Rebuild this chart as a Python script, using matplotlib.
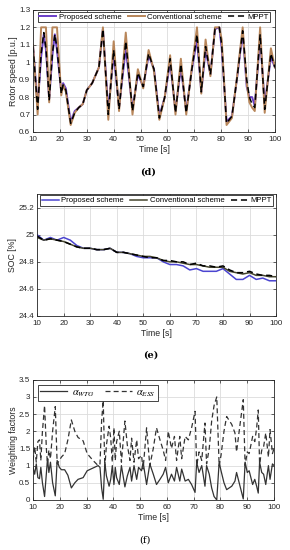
# Rotor speed, SOC and weighting factors (three stacked panels)

import matplotlib
matplotlib.use("Agg")
import matplotlib.pyplot as plt

# ---- panel (d): rotor speed ----
t_d = [10, 11.7, 13, 14, 14.8, 16, 17.2, 18.1, 18.9, 20.5,
       21.2, 22.2, 24, 25.5, 27, 28.5, 30, 32, 34.5, 36,
       38, 40, 42, 44.5, 47, 49, 51, 53, 55, 57,
       59, 61, 63, 65, 67, 69, 71, 72.6, 74.2, 76,
       77.7, 79.3, 80.2, 82, 84, 86, 88, 89.5, 90.5, 91.5,
       92.5, 94.5, 96.2, 98.5, 100]
speed_mppt = [1.09, 0.73, 1.05, 1.17, 1.08, 0.78, 1.05, 1.16, 1.08, 0.82,
              0.87, 0.84, 0.65, 0.71, 0.74, 0.76, 0.84, 0.88, 0.97, 1.19,
              0.70, 1.07, 0.73, 1.12, 0.72, 0.94, 0.86, 1.05, 0.96, 0.68,
              0.80, 1.02, 0.71, 0.99, 0.71, 0.95, 1.16, 0.83, 1.09, 0.93,
              1.19, 1.20, 1.10, 0.65, 0.69, 0.92, 1.18, 0.90, 0.80, 0.76,
              0.74, 1.16, 0.73, 1.05, 0.97]
speed_prop = [1.09, 0.75, 1.03, 1.16, 1.07, 0.79, 1.04, 1.16, 1.07, 0.83,
              0.88, 0.85, 0.66, 0.72, 0.74, 0.76, 0.84, 0.88, 0.97, 1.19,
              0.72, 1.05, 0.74, 1.08, 0.73, 0.93, 0.86, 1.04, 0.96, 0.69,
              0.80, 1.00, 0.72, 0.97, 0.72, 0.95, 1.13, 0.83, 1.07, 0.93,
              1.19, 1.20, 1.08, 0.66, 0.69, 0.92, 1.17, 0.86, 0.80, 0.80,
              0.75, 1.14, 0.76, 1.03, 0.97]
speed_conv = [1.10, 0.70, 1.20, 1.20, 1.20, 0.77, 1.20, 1.20, 1.20, 0.81,
              0.87, 0.83, 0.64, 0.71, 0.74, 0.76, 0.84, 0.88, 0.97, 1.20,
              0.67, 1.12, 0.72, 1.17, 0.70, 0.96, 0.85, 1.07, 0.95, 0.67,
              0.80, 1.04, 0.70, 1.02, 0.70, 0.96, 1.20, 0.82, 1.13, 0.92,
              1.20, 1.20, 1.13, 0.64, 0.68, 0.93, 1.20, 0.88, 0.77, 0.74,
              0.72, 1.20, 0.71, 1.08, 0.97]

# ---- panel (e): state of charge ----
t_e = [10, 12.5, 15, 17.5, 20, 22.5, 25, 27.5, 30, 32.5,
       35, 37.5, 40, 42.5, 45, 47.5, 50, 52.5, 55, 57.5,
       60, 62.5, 65, 67.5, 70, 72.5, 75, 77.5, 80, 82.5,
       85, 87.5, 90, 92.5, 95, 97.5, 100]
soc_mppt = [24.99, 24.96, 24.97, 24.96, 24.95, 24.93, 24.91, 24.90, 24.90, 24.89,
            24.89, 24.90, 24.87, 24.87, 24.86, 24.85, 24.84, 24.83, 24.83, 24.81,
            24.81, 24.80, 24.80, 24.78, 24.79, 24.77, 24.77, 24.76, 24.77, 24.74,
            24.72, 24.72, 24.73, 24.71, 24.70, 24.70, 24.69]
soc_conv = [24.98, 24.96, 24.97, 24.96, 24.95, 24.93, 24.91, 24.90, 24.90, 24.89,
            24.89, 24.90, 24.87, 24.87, 24.86, 24.85, 24.84, 24.84, 24.83, 24.81,
            24.80, 24.80, 24.79, 24.78, 24.78, 24.77, 24.76, 24.76, 24.76, 24.73,
            24.72, 24.71, 24.72, 24.70, 24.70, 24.69, 24.69]
soc_prop = [25.00, 24.96, 24.98, 24.96, 24.98, 24.96, 24.92, 24.90, 24.90, 24.89,
            24.89, 24.90, 24.87, 24.87, 24.86, 24.84, 24.83, 24.83, 24.83, 24.80,
            24.78, 24.78, 24.77, 24.74, 24.75, 24.73, 24.73, 24.73, 24.75, 24.71,
            24.67, 24.67, 24.70, 24.67, 24.68, 24.66, 24.66]

# ---- panel (f): weighting factors ----
t_f = [10.0, 10.6, 11.2, 11.8, 12.4, 12.9, 13.5, 14.3, 15.0, 15.4,
       15.9, 16.5, 17.3, 18.3, 19.0, 19.8, 20.6, 21.8, 23.0, 24.3,
       25.6, 26.8, 28.7, 30.2, 32.4, 34.3, 35.0, 35.6, 36.2, 36.8,
       37.4, 38.4, 39.0, 39.6, 40.2, 40.7, 41.2, 42.2, 43.0, 44.3,
       45.2, 46.2, 46.8, 47.7, 48.7, 49.4, 50.5, 51.1, 52.4, 53.6,
       54.9, 56.1, 57.4, 58.6, 59.5, 60.5, 61.7, 62.8, 63.6, 64.8,
       65.5, 66.8, 68.0, 69.2, 70.5, 71.1, 72.0, 73.0, 74.2, 74.8,
       75.8, 76.7, 77.6, 78.6, 79.5, 80.2, 81.3, 82.3, 84.2, 85.4,
       86.0, 87.3, 88.5, 89.2, 90.0, 90.7, 92.0, 92.8, 93.5, 94.1,
       94.6, 95.4, 96.1, 96.9, 97.9, 98.5, 99.4, 100.0]
alpha_wtg = [0.95, 0.75, 1.05, 0.65, 0.62, 0.95, 0.50, 0.10, 0.80, 1.20,
             0.80, 1.10, 0.50, 0.12, 1.15, 0.95, 0.88, 0.88, 0.72, 0.35,
             0.50, 0.60, 0.65, 0.85, 0.93, 1.00, 0.95, 0.35, 0.02, 1.10,
             0.70, 0.40, 0.60, 1.00, 0.45, 0.95, 0.65, 0.45, 1.00, 0.38,
             0.70, 0.95, 0.55, 1.00, 0.60, 0.95, 0.85, 1.10, 0.45, 1.05,
             0.75, 0.45, 0.60, 0.75, 0.95, 0.50, 0.75, 0.55, 0.95, 0.55,
             0.90, 0.55, 0.60, 0.45, 0.22, 1.10, 0.80, 1.00, 0.40, 1.00,
             0.75, 0.35, 0.10, 0.00, 1.10, 0.85, 0.50, 0.30, 0.40, 0.55,
             0.80, 0.40, 0.03, 1.10, 0.80, 0.85, 0.45, 0.60, 0.40, 0.20,
             1.10, 0.80, 0.75, 0.45, 1.00, 0.60, 1.05, 1.00]
alpha_ess = [1.15, 1.55, 1.10, 1.70, 1.75, 1.15, 2.00, 2.75, 1.45, 1.05,
             1.45, 1.20, 2.00, 2.72, 1.05, 1.15, 1.25, 1.35, 1.75, 2.33,
             2.00, 1.82, 1.72, 1.35, 1.15, 1.00, 1.05, 2.30, 2.90, 0.95,
             1.60, 2.15, 1.80, 1.10, 2.10, 1.15, 1.70, 2.00, 1.10, 2.30,
             1.60, 1.15, 1.80, 1.10, 1.75, 1.20, 1.30, 0.90, 2.10, 1.00,
             1.50, 2.10, 1.75, 1.45, 1.15, 2.00, 1.50, 1.85, 1.15, 1.85,
             1.20, 1.85, 1.75, 2.10, 2.58, 1.00, 1.40, 1.15, 2.24, 1.05,
             1.50, 2.30, 2.75, 3.00, 1.00, 1.30, 2.00, 2.43, 2.20, 1.95,
             1.40, 2.20, 2.92, 1.00, 1.40, 1.35, 1.85, 1.70, 2.10, 2.62,
             1.05, 1.45, 1.55, 1.95, 1.25, 2.05, 1.35, 1.50]

x_ticks = list(range(10, 101, 10))

plt.rcParams["font.family"] = "Liberation Sans"
plt.rcParams["mathtext.fontset"] = "stix"

fig = plt.figure(figsize=(2.9, 5.5), dpi=100)


def style_axes(ax, ylabel):
    """MATLAB-like look: grid, thin gray frame, small ticks."""
    ax.grid(True, color="#dcdcdc", linewidth=0.6)
    ax.set_axisbelow(True)
    for side in ax.spines.values():
        side.set_color("#262626")
        side.set_linewidth(0.6)
    ax.tick_params(labelsize=5.8, direction="in", length=2, width=0.5,
                   colors="#262626", top=True, right=True)
    ax.tick_params(axis="x", pad=3)
    ax.tick_params(axis="y", pad=2)
    ax.set_xlim(10, 100)
    ax.set_xticks(x_ticks)
    ax.set_xlabel("Time [s]", fontsize=6.3, labelpad=1, color="#262626")
    ax.set_ylabel(ylabel, fontsize=6.3, labelpad=1, color="#262626")


def add_legend(ax, **kw):
    leg = ax.legend(frameon=True, fancybox=False, framealpha=1,
                    edgecolor="#262626", **kw)
    leg.get_frame().set_linewidth(0.6)
    return leg


def fmt(v):
    return "%g" % round(v, 2)


# (d) rotor speed
ax_d = fig.add_axes([0.114, 0.76, 0.834, 0.222])
ax_d.plot(t_d, speed_prop, color="#6a3fc8", lw=1.4, label="Proposed scheme")
ax_d.plot(t_d, speed_conv, color="#b8865a", lw=1.4, label="Conventional scheme")
ax_d.plot(t_d, speed_mppt, color="black", lw=1.1, ls=(0, (4, 2.5)), label="MPPT")
ax_d.set_ylim(0.6, 1.3)
d_ticks = [0.6, 0.7, 0.8, 0.9, 1.0, 1.1, 1.2, 1.3]
ax_d.set_yticks(d_ticks)
ax_d.set_yticklabels([fmt(v) for v in d_ticks])
style_axes(ax_d, "Rotor speed [p.u.]")
add_legend(ax_d, loc="upper center", ncol=3, fontsize=5.6, handlelength=2.2,
           columnspacing=0.8, handletextpad=0.3, borderpad=0.2, borderaxespad=0.25)
fig.text(0.51, 0.687, "(d)", ha="center", va="center", fontsize=7,
         family="DejaVu Serif", weight="bold")

# (e) SOC
ax_e = fig.add_axes([0.128, 0.4255, 0.824, 0.2215])
ax_e.plot(t_e, soc_prop, color="#4b45d0", lw=1.1, label="Proposed scheme")
ax_e.plot(t_e, soc_conv, color="#45452e", lw=1.1, label="Conventional scheme")
ax_e.plot(t_e, soc_mppt, color="black", lw=1.1, ls=(0, (4, 2.5)), label="MPPT")
ax_e.set_ylim(24.4, 25.3)
e_ticks = [24.4, 24.6, 24.8, 25.0, 25.2]
ax_e.set_yticks(e_ticks)
ax_e.set_yticklabels([fmt(v) for v in e_ticks])
style_axes(ax_e, "SOC [%]")
add_legend(ax_e, loc="upper center", ncol=3, fontsize=5.6, handlelength=2.2,
           columnspacing=0.8, handletextpad=0.3, borderpad=0.2, borderaxespad=0.15)
fig.text(0.52, 0.355, "(e)", ha="center", va="center", fontsize=7,
         family="DejaVu Serif", weight="bold")

# (f) weighting factors
ax_f = fig.add_axes([0.114, 0.091, 0.831, 0.2185])
ax_f.plot(t_f, alpha_wtg, color="#333333", lw=0.9, label=r"$\alpha_{WTG}$")
ax_f.plot(t_f, alpha_ess, color="#333333", lw=0.9, ls=(0, (4, 2.5)), label=r"$\alpha_{ESS}$")
ax_f.set_ylim(0, 3.5)
f_ticks = [0, 0.5, 1.0, 1.5, 2.0, 2.5, 3.0, 3.5]
ax_f.set_yticks(f_ticks)
ax_f.set_yticklabels([fmt(v) for v in f_ticks])
style_axes(ax_f, "Weighting factors")
add_legend(ax_f, loc="upper left", ncol=2, fontsize=7.5, handlelength=2.6,
           columnspacing=1.0, handletextpad=0.4, borderpad=0.2, borderaxespad=0.5)
fig.text(0.50, 0.018, "(f)", ha="center", va="center", fontsize=7,
         family="DejaVu Serif")

fig.savefig("out.png", dpi=100, facecolor="white")
